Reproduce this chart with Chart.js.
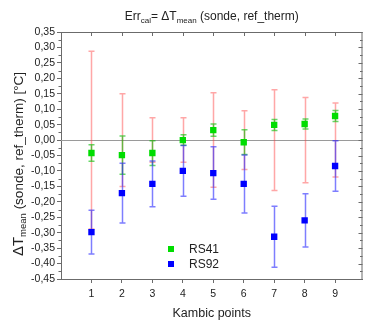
<!DOCTYPE html>
<html>
<head>
<meta charset="utf-8">
<script src="https://cdn.jsdelivr.net/npm/chart.js@4"></script>
<style>
html, body { margin: 0; padding: 0; background: #fff; }
</style>
</head>
<body>
<canvas id="errChart" width="367" height="321"></canvas>
<script>
// Kambic points on the x axis
const kambicPoints = [1, 2, 3, 4, 5, 6, 7, 8, 9];

// RS41 mean error and its error bar half-width
const rs41Mean = [-0.042, -0.049, -0.042, 0.000, 0.032, -0.007, 0.049, 0.052, 0.078];
const rs41Err  = [0.027, 0.062, 0.040, 0.017, 0.020, 0.040, 0.018, 0.016, 0.018];

// RS92 mean error and its error bar half-width
const rs92Mean = [-0.298, -0.172, -0.142, -0.100, -0.107, -0.142, -0.313, -0.260, -0.084];
const rs92Err  = [0.071, 0.097, 0.074, 0.082, 0.085, 0.094, 0.099, 0.086, 0.082];

// reference thermometer uncertainty, drawn around zero
const refMean = [0, 0, 0, 0, 0, 0, 0, 0, 0];
const refErr  = [0.288, 0.150, 0.072, 0.072, 0.153, 0.095, 0.163, 0.138, 0.120];

const yTicks = [-0.45, -0.40, -0.35, -0.30, -0.25, -0.20, -0.15, -0.10, -0.05, 0.00,
                0.05, 0.10, 0.15, 0.20, 0.25, 0.30, 0.35];

const FONT = "'Liberation Sans', Arial, sans-serif";
const AXIS_COLOR = '#6b6b6b';
const TEXT_COLOR = '#222';

function toPoints(means) {
    return kambicPoints.map((x, i) => ({ x: x, y: means[i] }));
}

function fmtTick(v) {
    if (Math.abs(v) < 1e-9) v = 0;
    return v.toFixed(2).replace('.', ',');
}

// draws text pieces [text, size, baselineShift] one after another
function drawRich(ctx, pieces, x, y, align) {
    let total = 0;
    pieces.forEach(p => {
        ctx.font = p[1] + 'px ' + FONT;
        total += ctx.measureText(p[0]).width;
    });
    let cx = align === 'center' ? x - total / 2 : x;
    pieces.forEach(p => {
        ctx.font = p[1] + 'px ' + FONT;
        ctx.fillText(p[0], cx, y + (p[2] || 0));
        cx += ctx.measureText(p[0]).width;
    });
}

const errorBarPlugin = {
    id: 'errorBars',
    beforeDatasetsDraw(chart) {
        const ctx = chart.ctx;
        const xs = chart.scales.x;
        const ys = chart.scales.y;
        const area = chart.chartArea;

        ctx.save();
        // zero line
        ctx.strokeStyle = '#9a9a9a';
        ctx.lineWidth = 1;
        ctx.beginPath();
        ctx.moveTo(area.left, Math.round(ys.getPixelForValue(0)) + 0.5);
        ctx.lineTo(area.right, Math.round(ys.getPixelForValue(0)) + 0.5);
        ctx.stroke();

        chart.data.datasets.forEach(ds => {
            if (!ds.errors) return;
            ctx.strokeStyle = ds.errorColor;
            ctx.lineWidth = ds.errorWidth || 1.5;
            ds.data.forEach((pt, i) => {
                const px = Math.round(xs.getPixelForValue(pt.x)) + 0.5;
                const top = ys.getPixelForValue(pt.y + ds.errors[i]);
                const bot = ys.getPixelForValue(pt.y - ds.errors[i]);
                ctx.beginPath();
                ctx.moveTo(px, top);
                ctx.lineTo(px, bot);
                ctx.moveTo(px - 3, top);
                ctx.lineTo(px + 3, top);
                ctx.moveTo(px - 3, bot);
                ctx.lineTo(px + 3, bot);
                ctx.stroke();
            });
        });
        ctx.restore();
    },
    afterDraw(chart) {
        const ctx = chart.ctx;
        const xs = chart.scales.x;
        const ys = chart.scales.y;
        const area = chart.chartArea;

        ctx.save();
        // frame: top and right
        ctx.strokeStyle = AXIS_COLOR;
        ctx.lineWidth = 1;
        ctx.beginPath();
        ctx.moveTo(area.left, area.top + 0.5);
        ctx.lineTo(area.right, area.top + 0.5);
        ctx.moveTo(area.right - 0.5, area.top);
        ctx.lineTo(area.right - 0.5, area.bottom);
        ctx.stroke();

        // top ticks (inward)
        ctx.beginPath();
        kambicPoints.forEach(k => {
            const px = Math.round(xs.getPixelForValue(k)) + 0.5;
            ctx.moveTo(px, area.top);
            ctx.lineTo(px, area.top + 4);
        });
        // y minor ticks on the left (outward), all ticks on the right (inward)
        for (let i = 0; i < yTicks.length; i++) {
            const py = Math.round(ys.getPixelForValue(yTicks[i])) + 0.5;
            ctx.moveTo(area.right, py);
            ctx.lineTo(area.right - 4, py);
            if (i < yTicks.length - 1) {
                const mid = (yTicks[i] + yTicks[i + 1]) / 2;
                const pm = Math.round(ys.getPixelForValue(mid)) + 0.5;
                ctx.moveTo(area.left, pm);
                ctx.lineTo(area.left - 2.5, pm);
                ctx.moveTo(area.right, pm);
                ctx.lineTo(area.right - 2.5, pm);
            }
        }
        ctx.stroke();

        // title
        ctx.fillStyle = TEXT_COLOR;
        ctx.textBaseline = 'alphabetic';
        ctx.textAlign = 'left';
        drawRich(ctx, [
            ['Err', 12], ['cal', 8, 3], ['= \u0394T', 12], ['mean', 8, 3], [' (sonde, ref_therm)', 12]
        ], (area.left + area.right) / 2, 20, 'center');

        // x axis title
        drawRich(ctx, [['Kambic points', 12.5]], (area.left + area.right) / 2, 317, 'center');

        // y axis title (rotated)
        ctx.save();
        ctx.translate(23, 164);
        ctx.rotate(-Math.PI / 2);
        drawRich(ctx, [
            ['\u0394T', 15], ['mean', 9.5, 3], [' (sonde, ref_therm) [\u00B0C]', 13.5]
        ], 0, 0, 'center');
        ctx.restore();

        // legend inside the plot
        const legendItems = chart.data.datasets.filter(ds => ds.inLegend);
        legendItems.forEach((ds, i) => {
            const ly = 249 + i * 15;
            ctx.fillStyle = ds.backgroundColor;
            ctx.fillRect(168, ly - 3, 6, 6);
            ctx.fillStyle = TEXT_COLOR;
            ctx.textBaseline = 'middle';
            ctx.font = '12px ' + FONT;
            ctx.fillText(ds.label, 189, ly + 1);
        });
        ctx.restore();
    }
};

const chart = new Chart(document.getElementById('errChart').getContext('2d'), {
    type: 'scatter',
    data: {
        datasets: [
            {
                label: 'ref_therm',
                data: toPoints(refMean),
                errors: refErr,
                errorColor: 'rgba(255, 60, 60, 0.45)',
                errorWidth: 1.5,
                pointRadius: 0,
                inLegend: false
            },
            {
                label: 'RS41',
                data: toPoints(rs41Mean),
                errors: rs41Err,
                errorColor: 'rgba(0, 190, 0, 0.6)',
                errorWidth: 1.5,
                backgroundColor: '#00dd00',
                borderColor: '#00dd00',
                pointStyle: 'rect',
                pointRadius: 4.5,
                borderWidth: 0,
                inLegend: true
            },
            {
                label: 'RS92',
                data: toPoints(rs92Mean),
                errors: rs92Err,
                errorColor: 'rgba(40, 40, 255, 0.6)',
                errorWidth: 1.5,
                backgroundColor: '#0000ff',
                borderColor: '#0000ff',
                pointStyle: 'rect',
                pointRadius: 4.5,
                borderWidth: 0,
                inLegend: true
            }
        ]
    },
    options: {
        responsive: false,
        animation: false,
        layout: { padding: { top: 32, right: 1, left: 0, bottom: 0 } },
        plugins: {
            legend: { display: false },
            tooltip: { enabled: false },
            title: { display: false }
        },
        scales: {
            x: {
                type: 'linear',
                min: 0,
                max: 9.9,
                afterBuildTicks: scale => {
                    scale.ticks = kambicPoints.map(v => ({ value: v }));
                },
                afterFit: scale => { scale.height = 42; },
                ticks: {
                    color: TEXT_COLOR,
                    font: { family: FONT, size: 10.5 },
                    padding: 5,
                    maxRotation: 0,
                    autoSkip: false,
                    callback: v => String(v)
                },
                grid: {
                    display: true,
                    drawOnChartArea: false,
                    drawTicks: true,
                    tickLength: 4,
                    color: AXIS_COLOR
                },
                border: { display: true, color: AXIS_COLOR }
            },
            y: {
                min: -0.45,
                max: 0.35,
                afterBuildTicks: scale => {
                    scale.ticks = yTicks.map(v => ({ value: v }));
                },
                afterFit: scale => { scale.width = 61; },
                ticks: {
                    color: TEXT_COLOR,
                    font: { family: FONT, size: 10.5 },
                    padding: 2,
                    autoSkip: false,
                    callback: v => fmtTick(v)
                },
                grid: {
                    display: true,
                    drawOnChartArea: false,
                    drawTicks: true,
                    tickLength: 4,
                    color: AXIS_COLOR
                },
                border: { display: true, color: AXIS_COLOR }
            }
        }
    },
    plugins: [errorBarPlugin]
});
</script>
</body>
</html>
